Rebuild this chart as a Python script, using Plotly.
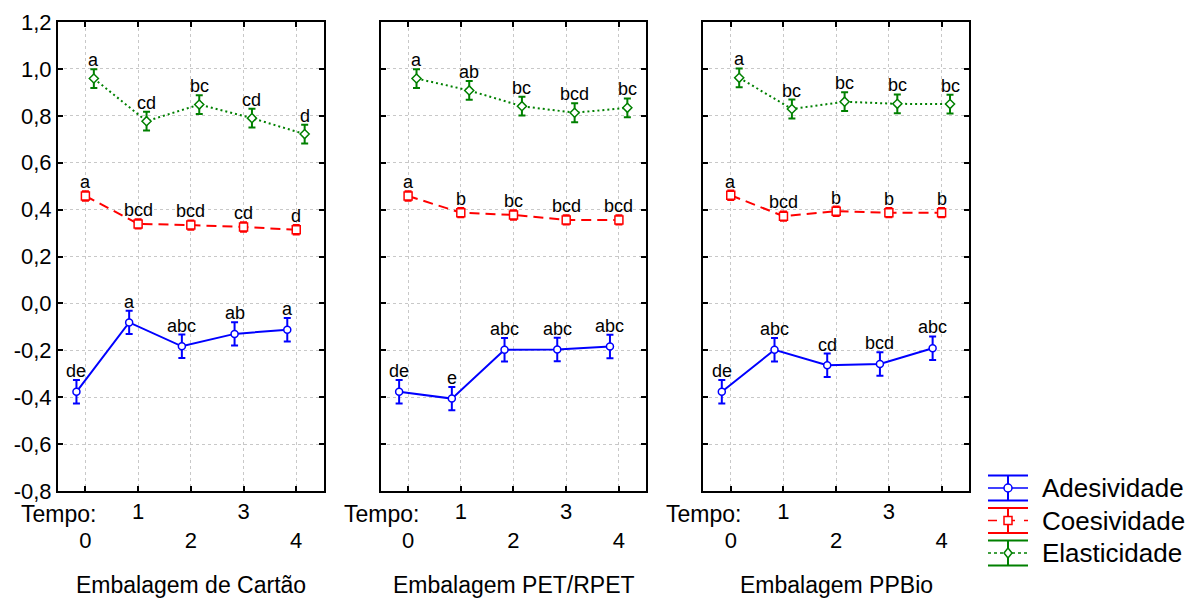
import plotly.graph_objects as go
from plotly.subplots import make_subplots

# ---- data ----
tempo = [0, 1, 2, 3, 4]
tempo_labels = ["<br>0", "1", "<br>2", "3", "<br>4"]
panels = ["Embalagem de Cartão", "Embalagem PET/RPET", "Embalagem PPBio"]
series_names = ["Adesividade", "Coesividade", "Elasticidade"]

ades_cartao = [-0.377, -0.081, -0.183, -0.130, -0.112]
ades_pet = [-0.377, -0.406, -0.198, -0.197, -0.184]
ades_ppbio = [-0.377, -0.198, -0.264, -0.258, -0.191]

coes_cartao = [0.458, 0.339, 0.334, 0.326, 0.314]
coes_pet = [0.458, 0.387, 0.377, 0.356, 0.356]
coes_ppbio = [0.461, 0.372, 0.393, 0.387, 0.387]

elas_cartao = [0.959, 0.777, 0.848, 0.790, 0.722]
elas_pet = [0.959, 0.908, 0.841, 0.813, 0.834]
elas_ppbio = [0.962, 0.829, 0.860, 0.851, 0.850]

err_ades = [0.05, 0.05, 0.05, 0.05, 0.05]
err_coes = [0.02, 0.02, 0.02, 0.02, 0.02]
err_elas = [0.04, 0.04, 0.04, 0.04, 0.04]

let_ades_cartao = ["de", "a", "abc", "ab", "a"]
let_ades_pet = ["de", "e", "abc", "abc", "abc"]
let_ades_ppbio = ["de", "abc", "cd", "bcd", "abc"]
let_coes_cartao = ["a", "bcd", "bcd", "cd", "d"]
let_coes_pet = ["a", "b", "bc", "bcd", "bcd"]
let_coes_ppbio = ["a", "bcd", "b", "b", "b"]
let_elas_cartao = ["a", "cd", "bc", "cd", "d"]
let_elas_pet = ["a", "ab", "bc", "bcd", "bc"]
let_elas_ppbio = ["a", "bc", "bc", "bc", "bc"]

y_ticks = [-0.8, -0.6, -0.4, -0.2, 0.0, 0.2, 0.4, 0.6, 0.8, 1.0, 1.2]
y_tick_labels = ["-0,8", "-0,6", "-0,4", "-0,2", "0,0", "0,2", "0,4", "0,6", "0,8", "1,0", "1,2"]

# ---- styles ----
styles = {
    "Adesividade": dict(color="#0000ff", dash="solid", symbol="circle", size=7, offset=-0.17),
    "Coesividade": dict(color="#ff0000", dash="10px,6px", symbol="square", size=8, offset=0.0),
    "Elasticidade": dict(color="#008000", dash="2px,3px", symbol="diamond", size=7, offset=0.16),
}
legend_dash = {"Adesividade": "solid", "Coesividade": "dash", "Elasticidade": "dot"}

data = [
    {"Adesividade": (ades_cartao, err_ades, let_ades_cartao),
     "Coesividade": (coes_cartao, err_coes, let_coes_cartao),
     "Elasticidade": (elas_cartao, err_elas, let_elas_cartao)},
    {"Adesividade": (ades_pet, err_ades, let_ades_pet),
     "Coesividade": (coes_pet, err_coes, let_coes_pet),
     "Elasticidade": (elas_pet, err_elas, let_elas_pet)},
    {"Adesividade": (ades_ppbio, err_ades, let_ades_ppbio),
     "Coesividade": (coes_ppbio, err_coes, let_coes_ppbio),
     "Elasticidade": (elas_ppbio, err_elas, let_elas_ppbio)},
]

FONT = "Liberation Sans, Arial, sans-serif"

# layout geometry (pixels)
W, H = 1200, 601
ML, MR, MT, MB = 58, 231, 22, 110
PW, PH = W - ML - MR, H - MT - MB


def px_x(x):
    return (x - ML) / PW


def px_y(y):
    return (H - MB - y) / PH


fig = make_subplots(rows=1, cols=3, horizontal_spacing=0.0626)

annotations = []
for p, panel in enumerate(data):
    col = p + 1
    xref = "x" if p == 0 else f"x{col}"
    yref = "y" if p == 0 else f"y{col}"
    for name in series_names:
        vals, errs, letters = panel[name]
        st = styles[name]
        xs = [t + st["offset"] for t in tempo]
        fig.add_trace(
            go.Scatter(
                x=xs, y=vals, name=name, legendgroup=name, showlegend=False,
                mode="lines+markers",
                line=dict(color=st["color"], width=2, dash=st["dash"]),
                marker=dict(symbol=st["symbol"], size=st["size"], color="white",
                            line=dict(color=st["color"], width=1.5)),
                error_y=dict(type="data", array=errs, visible=True,
                             color=st["color"], thickness=2, width=3.5),
            ),
            row=1, col=col,
        )
        for x, v, e, lab in zip(xs, vals, errs, letters):
            annotations.append(dict(
                x=x, y=v + e, xref=xref, yref=yref, text=lab, showarrow=False,
                xanchor="center", yanchor="bottom", yshift=-3,
                font=dict(family=FONT, size=18, color="black"),
            ))
    annotations.append(dict(
        x=0.5, y=-0.2, xref=f"{xref} domain", yref=f"{yref} domain",
        text=panels[p], showarrow=False, xanchor="center", yanchor="middle",
        font=dict(family=FONT, size=23, color="black"),
    ))
    annotations.append(dict(
        x=0.24, y=-0.049, xref=xref, yref=f"{yref} domain",
        text="Tempo:", showarrow=False, xanchor="right", yanchor="middle",
        font=dict(family=FONT, size=23, color="black"),
    ))

# ---- legend (drawn as error-bar style keys) ----
shapes = []
leg_x0, leg_x1, leg_xc = 988, 1028, 1008
leg_text_x = 1040
leg_centers = [488, 520.5, 553]
for name, yc in zip(series_names, leg_centers):
    st = styles[name]
    c = st["color"]
    top, bot = yc - 12.5, yc + 12.5
    for yy in (top, bot):
        shapes.append(dict(type="line", xref="paper", yref="paper",
                           x0=px_x(leg_x0), x1=px_x(leg_x1), y0=px_y(yy), y1=px_y(yy),
                           line=dict(color=c, width=2)))
    shapes.append(dict(type="line", xref="paper", yref="paper",
                       x0=px_x(leg_xc), x1=px_x(leg_xc), y0=px_y(top), y1=px_y(bot),
                       line=dict(color=c, width=2)))
    shapes.append(dict(type="line", xref="paper", yref="paper",
                       x0=px_x(leg_x0), x1=px_x(leg_x1), y0=px_y(yc), y1=px_y(yc),
                       line=dict(color=c, width=1.5, dash=legend_dash[name])))
    r = 4
    if st["symbol"] == "circle":
        shapes.append(dict(type="circle", xref="paper", yref="paper",
                           x0=px_x(leg_xc - r), x1=px_x(leg_xc + r),
                           y0=px_y(yc - r), y1=px_y(yc + r),
                           fillcolor="white", line=dict(color=c, width=1.5)))
    elif st["symbol"] == "square":
        shapes.append(dict(type="rect", xref="paper", yref="paper",
                           x0=px_x(leg_xc - r), x1=px_x(leg_xc + r),
                           y0=px_y(yc - r), y1=px_y(yc + r),
                           fillcolor="white", line=dict(color=c, width=1.5)))
    else:
        path = (f"M {px_x(leg_xc)} {px_y(yc - r - 1)} L {px_x(leg_xc + r)} {px_y(yc)} "
                f"L {px_x(leg_xc)} {px_y(yc + r + 1)} L {px_x(leg_xc - r)} {px_y(yc)} Z")
        shapes.append(dict(type="path", xref="paper", yref="paper", path=path,
                           fillcolor="white", line=dict(color=c, width=1.5)))
    annotations.append(dict(
        x=px_x(leg_text_x), y=px_y(yc), xref="paper", yref="paper",
        text=name, showarrow=False, xanchor="left", yanchor="middle",
        font=dict(family=FONT, size=26, color="black"),
    ))

axis_common = dict(
    showline=True, linecolor="black", linewidth=2, mirror="ticks",
    ticks="inside", ticklen=5, tickwidth=1.5, tickcolor="black",
    showgrid=True, gridcolor="#c8c8c8", gridwidth=1, griddash="dot",
    zeroline=False, automargin=False,
    tickfont=dict(family=FONT, size=22, color="black"),
)

for col in range(1, 4):
    fig.update_xaxes(
        range=[-0.52, 4.52], tickmode="array", tickvals=tempo, ticktext=tempo_labels,
        **axis_common, row=1, col=col,
    )
    fig.update_yaxes(
        range=[-0.8, 1.2], tickmode="array", tickvals=y_ticks, ticktext=y_tick_labels,
        showticklabels=(col == 1),
        **axis_common, row=1, col=col,
    )

fig.update_layout(
    width=W, height=H,
    margin=dict(l=ML, r=MR, t=MT, b=MB, autoexpand=False),
    paper_bgcolor="white", plot_bgcolor="white",
    font=dict(family=FONT, color="black"),
    annotations=annotations,
    shapes=shapes,
    showlegend=False,
)

fig.write_html(
    "out.html",
    config={"displayModeBar": False},
    post_script="document.body.style.margin='0px';document.body.style.overflow='hidden';",
)
